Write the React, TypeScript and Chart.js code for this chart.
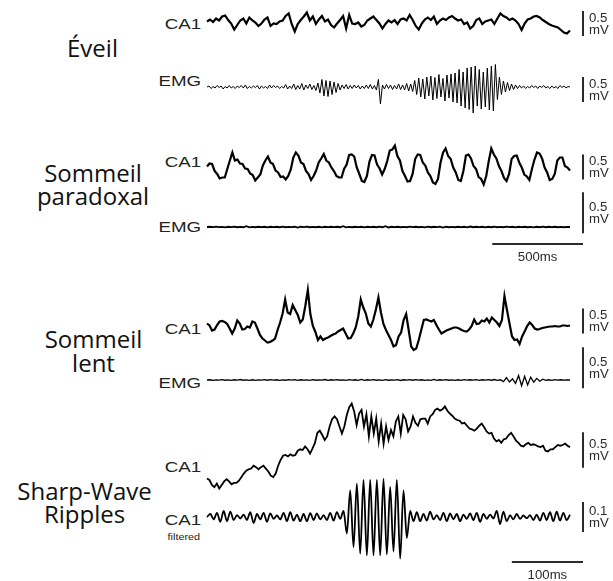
import React, { useEffect, useRef } from "react";
import { Chart, registerables } from "chart.js";

Chart.register(...registerables);

// ---------- DATA (µV, equally spaced samples across each window) ----------
const EVEIL_CA1 = [10, 50, 0, 70, 30, 110, 130, 40, -30, -150, -60, 30, 70, -30, 90, 30, -10, -80, -30, 50, 90, -80, -30, -40, 10, 30, 120, 170, -40, -190, -40, 40, 110, 190, 30, 110, -40, 50, 120, 10, 50, -60, -110, -30, 40, 120, -130, 140, -30, -40, -10, -90, -60, 30, 70, 110, 40, -30, -130, -40, 30, -10, 40, -40, 50, 70, 30, 140, 40, -80, -150, -30, 50, 90, 40, 110, -40, 30, 70, 40, 90, 120, 70, 30, 50, -40, -10, -130, -80, 40, 70, -40, 10, 30, 50, -40, 70, 170, 120, 90, 40, 70, 30, -40, -160, -30, 50, 70, 110, 120, 90, 40, 0, -40, -70, -90, -110, -160, -210, -230, -170];

const EVEIL_EMG = [0, 20, -30, 10, -20, 30, -10, 20, -40, 10, -20, 30, -20, 10, -30, 20, -10, 30, -20, 40, -30, 10, -20, 20, -10, 30, -40, 20, -20, 10, -30, 40, -20, 30, -10, 20, -30, 10, -20, 50, -40, 20, -30, 60, -50, 30, -40, 70, -60, 40, -30, 60, -50, 30, -70, 80,
  -120, 150, -180, 130, -190, 120, -150, 100, -110, 70, -60,
  40, -30, 50, -40, 30, -30, 40, -20, 30, -40, 20, -30, 40, -30, 50, -40, 30, -60,
  150, -340, 40,
  -40, 50, -30, 40, -50, 30, -40, 60, -50, 40, -60, 70, -80, 60, -90,
  130, -150, 180, -200, 160, -240, 200, -180, 220, -260, 190, -230, 250, -200, 170, -280, 240, -220, 260, -300,
  280, -320, 350, -380, 300, -420, 380, -450, 400, -520, 420, -380, 350, -440, 300, -400, 380, -460, 420, -480, 450,
  -250, 200, -150, 120, -100, 90, -70, 60, -50, 40,
  -30, 30, -20, 20, -30, 10, -20, 30, -10, 20, -30, 20, -10, 30, -20, 10, -30, 20, -20, 10, -30, 30, -10, 20, -20, 10, 0];

const SP_CA1 = [10, 70, 60, -80, -140, -230, -210, -210, -40, 130, 290, 130, 150, 70, 60, -30, -40, -130, -160, -270, -210, -150, 30, 130, 210, 90, 60, -70, -110, -200, -190, -250, -180, -50, 190, 290, 230, 90, 60, -80, -140, -260, -180, -70, 90, 170, 260, 130, 90, -10, -80, -180, -210, -210, -40, 50, 240, 250, 210, -10, -140, -280, -300, -180, 110, 240, 230, 50, -30, -150, -40, 120, 330, 350, 430, 220, 130, -80, -180, -290, -280, -140, 160, 250, 240, 90, 30, -110, -180, -310, -340, -240, 90, 290, 370, 220, 160, -10, -110, -260, -280, -80, 230, 250, 170, 20, -40, -200, -240, -350, -180, 120, 370, 250, 170, 20, -80, -220, -280, -140, 160, 220, 230, 90, -10, -150, -190, -260, -40, 150, 290, 270, 170, -10, -110, -260, -240, -140, 130, 190, 190, 20, -10, -70];

const SP_EMG = [0, 3, -2, 4, -2, 2, -4, 3, -2, 5, -3, 2, -3, 9, -4, 2, -3, 3, -2, 3, -5, 3, -2, 3, -3, 4, -3, 2, -2, 3, -8, 3, -2, 4, -3, 2, -3, 3, -4, 3, -2, 3, -2, 3, -3, 9, -5, 2, -3, 3, -2, 3, -4, 3, -2, 3, -3, 4, -3, 10, -6, 3, -2, 3, -3, 2, -3, 4, -2, 3, -3, 2, -4, 5, -3, 3, -2, 4, -7, 3, -3, 2, -3, 3, -2, 3, -4, 6, -3, 3, -2, 3, -4, 3, -3, 5, -3, 2, -3, 4, -2, 3, -5, 3, -2, 3, -3, 2, -4, 3, -3, 4, -3, 3, -2, 3, -3, 2, -3, 2, 0];

const SL_CA1 = [50, 10, -90, -70, 20, 90, 100, 80, 40, -50, -150, -50, 110, 50, -70, -60, -10, -30, 90, 70, -50, -180, -250, -290, -330, -320, -290, -250, -80, 70, 250, 530, 270, 240, 420, 320, 220, 70, 130, 400, 720, 240, 0, -120, -280, -210, -280, -250, -230, -200, -170, -150, -110, -80, -50, -150, -250, -240, -150, -30, 190, 530, 370, 250, 50, -10, 130, 330, 570, 270, 40, -80, -180, -280, -410, -380, -210, -130, 120, 240, -80, -410, -480, -450, -280, -80, 120, 130, 110, 90, 120, 20, -70, -150, -120, -90, -70, -50, -30, -30, -50, -80, -100, -110, -70, 0, 130, 40, 50, 110, 90, 150, 70, 170, 120, 70, 0, 120, 600, 320, 50, -210, -280, -270, -360, -210, -110, 0, 70, 20, -50, -70, -60, -40, -30, -20, -10, -10, 0, -10, -10, 10, 10, 0, 10];

const SL_EMG = [0, 3, -4, 2, -2, 5, -3, 2, -4, 3, -2, 6, -3, 2, -4, 3, -5, 2, -2, 4, -3, 5, -2, 3, -4, 2, -3, 4, -2, 5, -4, 3, -2, 2, -5, 4, -3, 2, -2, 6, -4, 3, -2, 4, -3, 2, -5, 4, -2, 3, -4, 7, -5, 3, -2, 4, -3, 2, -4, 5, -3, 2, -2, 4, -6, 3, -2, 4, -3, 5, -2, 3, -4, 2, -5, 8, -4, 3, -2, 4, -3, 2, -4, 3, -5, 4, -2, 3, -2, 5, -4, 3, -2, 4, -3, 6, -5, 3, -20, 30, -25, 15, -40, 55, -70, 45, -60, 35, -25, 20, -15, 10, -4, 3, -5, 4, -2, 3, -2, 2, 0];

const SWR_CA1 = [-400, -420, -490, -520, -470, -540, -490, -440, -410, -440, -480, -460, -460, -430, -380, -330, -290, -270, -260, -220, -240, -270, -240, -220, -260, -300, -360, -380, -330, -220, -140, -80, -70, -90, -60, -80, -70, -10, 10, 0, 50, 10, -50, 20, 100, 240, 270, 210, 140, 190, 330, 430, 470, 430, 330, 230, 330, 490, 600, 650, 540, 350, 510, 560, 330, 500, 190, 470, 230, 440, 120, 370, 90, 330, 140, 280, 190, 400, 470, 230, 490, 430, 260, 330, 470, 380, 340, 430, 440, 440, 370, 470, 500, 560, 580, 550, 570, 610, 550, 510, 480, 440, 420, 410, 370, 380, 340, 300, 290, 270, 300, 340, 370, 320, 260, 230, 240, 160, 120, 140, 100, 150, 160, 210, 240, 190, 130, 100, 60, 50, 80, 100, 70, 80, 70, 50, 40, 60, -10, -20, 10, 10, 40, 70, 60, 70, 90, 60, 40];

const SWR_FILTERED = [0, 10, -8, 14, -16, 20, -14, 18, -10, 6, -5, 8, -10, 16, -20, 10, -8, 14, -16, 12, -6, 5, -8, 14, -14, 16, -12, 8, -14, 10, -14, 13, -10, 12, -8, 6, -10, 14, -12, 16, -6,
  20, -55, 89, -100, 111, -122, 124, -128, 124, -128, 124, -128, 127, -125, 100, -115, 124, -139, 89, -70, 20,
  -14, 16, -14, 10, -12, 18, -8, 6, -10, 14, -14, 12, -8, 10, -14, 8, -6, 12, -10, 14, -16, 10, -6, 8, -5, 20, -24, 18, -14, 6, -8, 10, -6, 5, -4, 6, -10, 8, -12, 14, -10, 16, -14, 18, -12, 14, -10, 8];

const LONG_WINDOW_MS = 2000;
const SWR_WINDOW_MS = 510;

const PANEL_TITLES = [
  { lines: ["Éveil"], cx: 92.5, baselines: [57] },
  { lines: ["Sommeil", "paradoxal"], cx: 93, baselines: [182, 205] },
  { lines: ["Sommeil", "lent"], cx: 93.5, baselines: [348, 372] },
  { lines: ["Sharp-Wave", "Ripples"], cx: 84.5, baselines: [500, 523] },
];

const CHANNEL_LABELS = [
  { text: "CA1", cy: 23.5 },
  { text: "EMG", cy: 80 },
  { text: "CA1", cy: 161 },
  { text: "EMG", cy: 226 },
  { text: "CA1", cy: 328 },
  { text: "EMG", cy: 382 },
  { text: "CA1", cy: 466 },
  { text: "CA1", cy: 519 },
];

type Spec = {
  values: number[];
  durationMs: number;
  top: number;
  height: number;
  yMin: number;
  yMax: number;
  width: number;
  smooth?: boolean;
  vbar: { from: number; to: number; lines: string[] };
  hbar?: { ms: number; y: number; label: string };
};

const SPECS: Spec[] = [
  { values: EVEIL_CA1, durationMs: LONG_WINDOW_MS, top: 2, height: 44, yMin: -480, yMax: 400, width: 2.2, vbar: { from: -280, to: 220, lines: ["0.5", "mV"] } },
  { values: EVEIL_EMG, durationMs: LONG_WINDOW_MS, top: 55, height: 70, yMin: -760, yMax: 640, width: 1.0, vbar: { from: -300, to: 200, lines: ["0.5", "mV"] } },
  { values: SP_CA1, durationMs: LONG_WINDOW_MS, top: 135, height: 65, yMin: -660, yMax: 640, width: 2.2, vbar: { from: -250, to: 250, lines: ["0.5", "mV"] } },
  { values: SP_EMG, durationMs: LONG_WINDOW_MS, top: 185, height: 85, yMin: -524.6, yMax: 512.4, width: 1.8, vbar: { from: -75, to: 425, lines: ["0.5", "mV"] }, hbar: { ms: 500, y: 244, label: "500ms" } },
  { values: SL_CA1, durationMs: LONG_WINDOW_MS, top: 282, height: 80, yMin: -720, yMax: 880, width: 2.2, vbar: { from: -150, to: 350, lines: ["0.5", "mV"] } },
  { values: SL_EMG, durationMs: LONG_WINDOW_MS, top: 340, height: 55, yMin: -183, yMax: 488, width: 1.3, vbar: { from: -100, to: 400, lines: ["0.5", "mV"] } },
  { values: SWR_CA1, durationMs: SWR_WINDOW_MS, top: 395, height: 100, yMin: -630, yMax: 770, width: 1.8, vbar: { from: -250, to: 250, lines: ["0.5", "mV"] } },
  { values: SWR_FILTERED, durationMs: SWR_WINDOW_MS, top: 470, height: 111, yMin: -213.3, yMax: 156.7, width: 1.8, smooth: true, vbar: { from: -50, to: 50, lines: ["0.1", "mV"] }, hbar: { ms: 100, y: 562, label: "100ms" } },
];

const CANVAS_LEFT = 205;
const CANVAS_WIDTH = 408;
const SMALL_FONT = '12px "Liberation Sans", Arial, sans-serif';

function stretchedText(ctx: CanvasRenderingContext2D, text: string, x: number, y: number, sx: number, align: "left" | "center") {
  ctx.save();
  ctx.translate(x, y);
  ctx.scale(sx, 1);
  ctx.textAlign = align;
  ctx.fillText(text, 0, 0);
  ctx.restore();
}

function Trace({ spec }: { spec: Spec }) {
  const ref = useRef<HTMLCanvasElement>(null);
  useEffect(() => {
    const canvas = ref.current!;
    const n = spec.values.length;
    const points = spec.values.map((v, i) => ({ x: (i * spec.durationMs) / (n - 1), y: v }));
    const barsPlugin = {
      id: "scaleBars",
      afterDraw(chart: any) {
        const { ctx, chartArea, scales } = chart;
        const ys = scales.y;
        const xs = scales.x;
        const bx = chartArea.right + 13;
        const y0 = ys.getPixelForValue(spec.vbar.from);
        const y1 = ys.getPixelForValue(spec.vbar.to);
        ctx.save();
        ctx.strokeStyle = "#2b2b2b";
        ctx.fillStyle = "#2b2b2b";
        ctx.lineWidth = 2;
        ctx.beginPath();
        ctx.moveTo(bx, y0);
        ctx.lineTo(bx, y1);
        ctx.stroke();
        const mid = (y0 + y1) / 2;
        ctx.font = SMALL_FONT;
        ctx.textBaseline = "alphabetic";
        stretchedText(ctx, spec.vbar.lines[0], bx + 6, mid - 2, 1.1, "left");
        stretchedText(ctx, spec.vbar.lines[1], bx + 6, mid + 10, 1.1, "left");
        if (spec.hbar) {
          const len = xs.getPixelForValue(spec.hbar.ms) - xs.getPixelForValue(0);
          const hy = spec.hbar.y - spec.top;
          const right = bx;
          ctx.beginPath();
          ctx.moveTo(right - len, hy);
          ctx.lineTo(right, hy);
          ctx.stroke();
          stretchedText(ctx, spec.hbar.label, right - len / 2, hy + 17, 1.1, "center");
        }
        ctx.restore();
      },
    };
    const chart = new Chart(canvas, {
      type: "line",
      data: {
        datasets: [
          {
            data: points,
            borderColor: "#000",
            borderWidth: spec.width,
            pointRadius: 0,
            tension: 0,
            cubicInterpolationMode: spec.smooth ? "monotone" : "default",
            fill: false,
            clip: false,
          } as any,
        ],
      },
      options: {
        animation: false,
        responsive: false,
        events: [],
        layout: { padding: { left: 2, right: 43, top: 0, bottom: 0 } },
        scales: {
          x: { type: "linear", display: false, min: 0, max: spec.durationMs },
          y: { type: "linear", display: false, min: spec.yMin, max: spec.yMax },
        },
        plugins: { legend: { display: false }, tooltip: { enabled: false } },
      },
      plugins: [barsPlugin],
    });
    return () => chart.destroy();
  }, [spec]);
  return (
    <canvas
      ref={ref}
      width={CANVAS_WIDTH}
      height={spec.height}
      style={{ position: "absolute", left: CANVAS_LEFT, top: spec.top, display: "block" }}
    />
  );
}

export default function App() {
  return (
    <div style={{ position: "absolute", left: 0, top: 0, width: 613, height: 581, background: "#fff", overflow: "hidden" }}>
      {PANEL_TITLES.map((t, i) =>
        t.lines.map((line, j) => (
          <div
            key={`t${i}-${j}`}
            style={{
              position: "absolute",
              left: t.cx - 100,
              width: 200,
              top: t.baselines[j] - 21.3,
              textAlign: "center",
              font: '24px "Open Sans", sans-serif',
              lineHeight: "24px",
              color: "#111",
              whiteSpace: "nowrap",
            }}
          >
            {line}
          </div>
        ))
      )}
      {CHANNEL_LABELS.map((c, i) => (
        <div
          key={`c${i}`}
          style={{
            position: "absolute",
            right: 613 - 201,
            top: c.cy - 7.3,
            font: '15px "Liberation Sans", Arial, sans-serif',
            lineHeight: "15px",
            color: "#222",
            whiteSpace: "nowrap",
            transform: "scaleX(1.25)",
            transformOrigin: "right center",
          }}
        >
          {c.text}
        </div>
      ))}
      <div
        style={{
          position: "absolute",
          right: 613 - 200,
          top: 538 - 5,
          font: '9px "Liberation Sans", Arial, sans-serif',
          lineHeight: "9px",
          color: "#222",
          whiteSpace: "nowrap",
          transform: "scaleX(1.2)",
          transformOrigin: "right center",
        }}
      >
        filtered
      </div>
      {SPECS.map((s, i) => (
        <Trace key={i} spec={s} />
      ))}
    </div>
  );
}
